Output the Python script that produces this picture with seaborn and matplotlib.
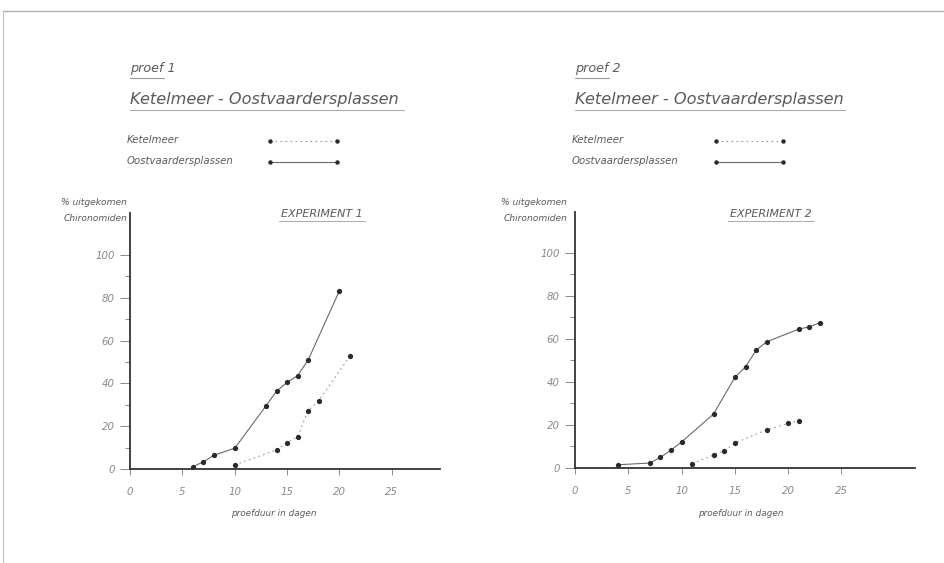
"""
Uitkomst van Chironomiden in twee proeven (Ketelmeer / Oostvaardersplassen)
"""
import matplotlib
matplotlib.use("Agg")
import matplotlib.pyplot as plt
from matplotlib.lines import Line2D
import numpy as np
import pandas as pd
import seaborn as sns

# --- data: proef 1 ---
p1_oost_days = [6, 7, 8, 10, 13, 14, 15, 16, 17, 20]
p1_oost_pct = [1.1, 3.3, 6.4, 9.7, 29.6, 36.4, 40.5, 43.6, 50.8, 83.3]
p1_ketel_days = [10, 14, 15, 16, 17, 18, 21]
p1_ketel_pct = [1.9, 8.9, 12.3, 15.0, 27.3, 31.8, 52.8]

# --- data: proef 2 ---
p2_oost_days = [4, 7, 8, 9, 10, 13, 15, 16, 17, 18, 21, 22, 23]
p2_oost_pct = [1.5, 2.3, 4.9, 8.3, 12.1, 25.1, 42.1, 47.0, 54.8, 58.7, 64.6, 65.6, 67.6]
p2_ketel_days = [11, 13, 14, 15, 18, 20, 21]
p2_ketel_pct = [2.0, 6.0, 8.0, 11.6, 17.8, 20.7, 22.0]

x_ticks = [0, 5, 10, 15, 20, 25]
y_major = [0, 20, 40, 60, 80, 100]
y_minor = [10, 30, 50, 70, 90]

W, H = 944, 563
TXT = "#5a5a5a"
LIGHT = "#8a8a8a"
AXC = "#333333"

sns.set_theme(style="white")
plt.rcParams["font.family"] = ["DejaVu Sans"]
plt.rcParams["font.style"] = "italic"

fig = plt.figure(figsize=(W / 100, H / 100), dpi=100)
fig.patch.set_facecolor("white")


def px(x, y):
    return x / W, 1 - y / H


def ftext(x, y, s, size, color=TXT, ha="left", va="baseline"):
    fx, fy = px(x, y)
    fig.text(fx, fy, s, fontsize=size, color=color, ha=ha, va=va, style="italic")


def fline(x0, x1, y0, y1, **kw):
    fx0, fy0 = px(x0, y0)
    fx1, fy1 = px(x1, y1)
    fig.add_artist(Line2D([fx0, fx1], [fy0, fy1], transform=fig.transFigure, **kw))


# page frame
fline(3, 944, 11, 11, color="#b0b0b0", lw=1.0)
fline(3, 3, 11, 563, color="#c0c0c0", lw=0.8)

panels = [
    dict(name="proef 1", exp="EXPERIMENT 1", x0=130, rect=[130, 469, 310, 256],
         xmax=29.6, ymax=119.6, exp_x=322, xl_x=274, leg=(270, 337), ylab_x=127,
         oost=(p1_oost_days, p1_oost_pct), ketel=(p1_ketel_days, p1_ketel_pct),
         title_w=274, proef_w=34),
    dict(name="proef 2", exp="EXPERIMENT 2", x0=575, rect=[575, 468, 340, 256],
         xmax=31.9, ymax=119.0, exp_x=771, xl_x=741, leg=(716, 783), ylab_x=567,
         oost=(p2_oost_days, p2_oost_pct), ketel=(p2_ketel_days, p2_ketel_pct),
         title_w=270, proef_w=34),
]

for p in panels:
    l, b, w, h = p["rect"]
    ax = fig.add_axes([l / W, (H - b) / H, w / W, h / H])
    ax.set_facecolor("white")

    oost = pd.DataFrame({"dag": p["oost"][0], "pct": p["oost"][1]})
    ketel = pd.DataFrame({"dag": p["ketel"][0], "pct": p["ketel"][1]})
    sns.lineplot(data=oost, x="dag", y="pct", ax=ax, color="#6a6a6a", lw=0.8,
                 marker="o", markersize=3.8, markerfacecolor="#2a2a2a",
                 markeredgewidth=0, clip_on=False)
    sns.lineplot(data=ketel, x="dag", y="pct", ax=ax, color="#9a9a9a", lw=0.8,
                 linestyle=(0, (1.5, 3)), marker="o", markersize=3.8,
                 markerfacecolor="#2a2a2a", markeredgewidth=0, clip_on=False)

    ax.set_xlim(0, p["xmax"])
    ax.set_ylim(0, p["ymax"])
    ax.set_xticks(x_ticks)
    ax.set_xticklabels([str(t) for t in x_ticks])
    ax.set_yticks(y_major)
    ax.set_yticklabels([str(t) for t in y_major])
    ax.set_yticks(y_minor, minor=True)
    ax.set_xlabel("")
    ax.set_ylabel("")
    sns.despine(ax=ax)
    for s in ["left", "bottom"]:
        ax.spines[s].set_color(AXC)
        ax.spines[s].set_linewidth(1.3)
    ax.tick_params(axis="y", which="major", direction="out", length=7.5, width=0.6,
                   color="#777777", pad=3.5, labelsize=7.3, labelcolor=LIGHT, left=True)
    ax.tick_params(axis="y", which="minor", direction="out", length=3.6, width=0.6,
                   color="#777777", left=True)
    ax.tick_params(axis="x", direction="out", length=4, width=0.6, color="#777777",
                   pad=9, labelsize=7.3, labelcolor=LIGHT, bottom=True)
    for t in ax.get_xticklabels() + ax.get_yticklabels():
        t.set_style("italic")
    if ax.get_legend():
        ax.get_legend().remove()

    x0 = p["x0"]
    # headings
    ftext(x0, 72, p["name"], 9.2)
    fline(x0, x0 + p["proef_w"], 78, 78, color="#999999", lw=0.8)
    ftext(x0, 104, "Ketelmeer - Oostvaardersplassen", 11.6)
    fline(x0, x0 + p["title_w"], 110, 110, color="#aaaaaa", lw=0.8)

    # legend
    a, c = p["leg"]
    ftext(x0 - 3, 143, "Ketelmeer", 7.3)
    ftext(x0 - 3, 164, "Oostvaardersplassen", 7.3)
    fline(a, c, 140.5, 140.5, color="#9a9a9a", lw=0.8, linestyle=(0, (1.5, 3)))
    fline(a, c, 161.5, 161.5, color="#6a6a6a", lw=0.8)
    for yy in (140.5, 161.5):
        for xx in (a, c):
            fx, fy = px(xx, yy)
            fig.add_artist(Line2D([fx], [fy], transform=fig.transFigure, marker="o",
                                  markersize=3.2, color="#2a2a2a", markeredgewidth=0))

    # axis captions
    ftext(p["ylab_x"], 205, "% uitgekomen", 6.6, ha="right")
    ftext(p["ylab_x"], 221, "Chironomiden", 6.6, ha="right")
    ftext(p["exp_x"], 217, p["exp"], 8, ha="center")
    fline(p["exp_x"] - 43, p["exp_x"] + 43, 221, 221, color="#aaaaaa", lw=0.7)
    ftext(p["xl_x"], 516, "proefduur in dagen", 6.4, ha="center")

fig.savefig("out.png", dpi=100, facecolor="white")
